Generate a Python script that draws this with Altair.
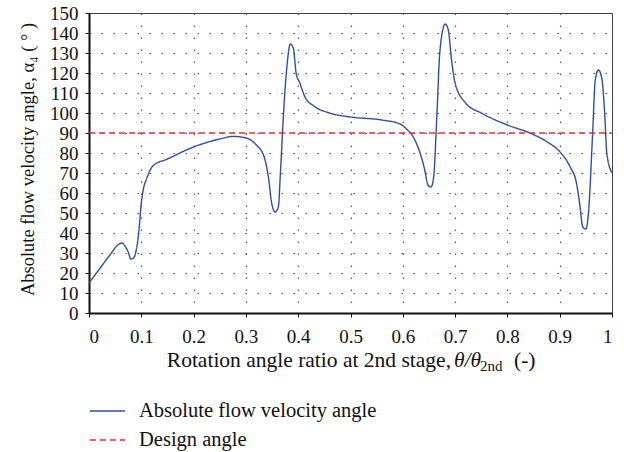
import altair as alt
import pandas as pd

# Absolute flow velocity angle curve
theta_ratio = [0, 0.02, 0.04, 0.055, 0.063, 0.07, 0.075, 0.08, 0.085, 0.09, 0.095,
               0.1, 0.104, 0.11, 0.122, 0.15, 0.2, 0.25, 0.276, 0.30, 0.32, 0.335,
               0.343, 0.35, 0.356, 0.362, 0.366, 0.372, 0.378, 0.385, 0.391, 0.396,
               0.403, 0.413, 0.43, 0.46, 0.5, 0.56, 0.595, 0.607, 0.62, 0.633, 0.642,
               0.648, 0.654, 0.659, 0.665, 0.671, 0.681, 0.687, 0.693, 0.70, 0.72,
               0.75, 0.80, 0.843, 0.875, 0.90, 0.92, 0.932, 0.939, 0.944, 0.950,
               0.955, 0.963, 0.968, 0.974, 0.980, 0.986, 0.990, 1.0]
flow_angle = [15, 22, 29, 34, 35, 33, 30.5, 27, 27.5, 31, 40,
              55, 62, 67, 73.5, 77, 83, 87, 88.3, 87.5, 84, 78,
              68, 54, 50.5, 53, 70, 100, 122, 134.5, 132, 120,
              115, 108, 103.5, 100, 98, 96.5, 94.5, 92, 88, 80, 71.5,
              64, 63, 68, 98, 131, 144.5, 141.5, 127, 115, 105,
              100, 94, 90, 85.7, 80.7, 73, 65, 53, 43, 42,
              50, 90, 116.5, 121.5, 118, 100, 80, 70]

design_x = [0, 1]
design_y = [90, 90]

series_names = ["Absolute flow velocity angle", "Design angle"]
series_colors = ["#2f4f9e", "#e8312f"]

x_ticks = [0, 0.1, 0.2, 0.3, 0.4, 0.5, 0.6, 0.7, 0.8, 0.9, 1]
y_ticks = list(range(0, 151, 10))

rows = [{"x": a, "y": b, "series": series_names[0]} for a, b in zip(theta_ratio, flow_angle)]
rows += [{"x": a, "y": b, "series": series_names[1]} for a, b in zip(design_x, design_y)]
df = pd.DataFrame(rows)

FONT = "Liberation Serif"
INK = "#111"

lines = alt.Chart(df).mark_line(strokeWidth=1.4, interpolate="monotone").encode(
    x=alt.X("x:Q", scale=alt.Scale(domain=[0, 1], nice=False),
            axis=alt.Axis(values=x_ticks, title=None, format="~g",
                          labelFontSize=19, labelFont=FONT, labelColor=INK,
                          tickColor=INK, tickSize=4, domainColor=INK,
                          domainWidth=2, labelPadding=10)),
    y=alt.Y("y:Q", scale=alt.Scale(domain=[0, 150], nice=False),
            axis=alt.Axis(values=y_ticks, title="Absolute flow velocity angle, α₄ ( ° )",
                          titleFontSize=18.5, titleFont=FONT, titleFontWeight="normal",
                          titleColor=INK, titleX=-62, titleY=146, titleAlign="center",
                          titleBaseline="middle", titleAngle=270,
                          labelFontSize=19, labelFont=FONT, labelColor=INK,
                          tickColor=INK, tickSize=4, domainColor=INK,
                          domainWidth=2, labelPadding=7)),
    color=alt.Color("series:N",
                    scale=alt.Scale(domain=series_names, range=series_colors),
                    legend=alt.Legend(title=None, orient="none", legendX=0, legendY=379.5,
                                      symbolType="stroke", symbolSize=1225,
                                      symbolStrokeWidth=1.6, labelFont=FONT,
                                      labelFontSize=20.5, labelColor=INK, labelLimit=0,
                                      labelOffset=13, rowPadding=-1, padding=0)),
    strokeDash=alt.StrokeDash("series:N",
                              scale=alt.Scale(domain=series_names, range=[[1, 0], [6, 4]]),
                              legend=None),
    order=alt.Order("x:Q"),
)

BASE_Y = 354
title_main = alt.Chart().mark_text(align="right", baseline="alphabetic", font=FONT,
                                    fontSize=21.5, color=INK).encode(
    x=alt.value(362), y=alt.value(BASE_Y),
    text=alt.value("Rotation angle ratio at 2nd stage,"))
title_theta = alt.Chart().mark_text(align="left", baseline="alphabetic", font=FONT,
                                     fontSize=21.5, fontStyle="italic", color=INK).encode(
    x=alt.value(365), y=alt.value(BASE_Y), text=alt.value("θ/θ"))
title_sub = alt.Chart().mark_text(align="left", baseline="alphabetic", font=FONT,
                                   fontSize=15, color=INK).encode(
    x=alt.value(391), y=alt.value(BASE_Y + 4), text=alt.value("2nd"))
title_end = alt.Chart().mark_text(align="left", baseline="alphabetic", font=FONT,
                                   fontSize=21.5, color=INK).encode(
    x=alt.value(425), y=alt.value(BASE_Y), text=alt.value("(-)"))

chart = alt.layer(lines, title_main, title_theta, title_sub, title_end).properties(
    width=523, height=300,
    padding={"left": 89, "top": 13, "right": 12, "bottom": 139},
    autosize=alt.AutoSizeParams(type="none"),
    background="white",
).configure_axis(
    grid=True, gridColor="#555", gridDash=[1.5, 10.5], gridWidth=1.2,
).configure_view(
    stroke="#444", strokeWidth=1,
)

chart.save("out.html", embed_options={"renderer": "svg", "actions": False})
